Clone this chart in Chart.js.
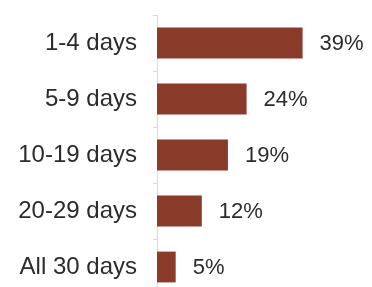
<!DOCTYPE html>
<html>
<head>
<meta charset="utf-8">
<script src="https://cdn.jsdelivr.net/npm/chart.js@4"></script>
<style>
  html, body { margin: 0; padding: 0; background: #fff; overflow: hidden; }
  canvas { display: block; }
</style>
</head>
<body>
<canvas id="chart" width="372" height="310"></canvas>
<script>
// 데이터
const categories = ['1-4 days', '5-9 days', '10-19 days', '20-29 days', 'All 30 days'];
const shares = [39, 24, 19, 12, 5];
const shareLabels = ['39%', '24%', '19%', '12%', '5%'];

const barColor = '#8a3b29';
const textColor = '#2b2b2b';
const fontFamily = '"Liberation Sans", Arial, sans-serif';

// 막대 오른쪽 값 라벨
const valueLabels = {
    id: 'valueLabels',
    afterDatasetsDraw(chart) {
        const ctx = chart.ctx;
        const meta = chart.getDatasetMeta(0);
        ctx.save();
        ctx.fillStyle = textColor;
        ctx.font = '22px ' + fontFamily;
        ctx.textAlign = 'left';
        ctx.textBaseline = 'middle';
        meta.data.forEach((bar, i) => {
            ctx.fillText(shareLabels[i], bar.x + 17, bar.y + 1);
        });
        ctx.restore();
    }
};

new Chart(document.getElementById('chart'), {
    type: 'bar',
    data: {
        labels: categories,
        datasets: [{
            data: shares,
            backgroundColor: barColor,
            borderWidth: 0,
            barPercentage: 0.55,
            categoryPercentage: 1
        }]
    },
    options: {
        indexAxis: 'y',
        responsive: false,
        animation: false,
        layout: { padding: { top: 15, right: 47, bottom: 15, left: 0 } },
        plugins: {
            legend: { display: false },
            tooltip: { enabled: false }
        },
        scales: {
            x: {
                display: false,
                min: 0,
                max: 45
            },
            y: {
                afterFit(scale) {
                    scale.width = 157;
                    // 라벨 높이 때문에 생기는 상하 여백 제거
                    scale.paddingTop = 0;
                    scale.paddingBottom = 0;
                },
                grid: {
                    offset: true,
                    drawOnChartArea: false,
                    drawTicks: true,
                    tickLength: 4,
                    color: '#d9d9d9'
                },
                border: { display: true, color: '#d9d9d9', width: 1 },
                ticks: {
                    color: textColor,
                    padding: 16,
                    font: { size: 24, family: fontFamily }
                }
            }
        }
    },
    plugins: [valueLabels]
});
</script>
</body>
</html>
